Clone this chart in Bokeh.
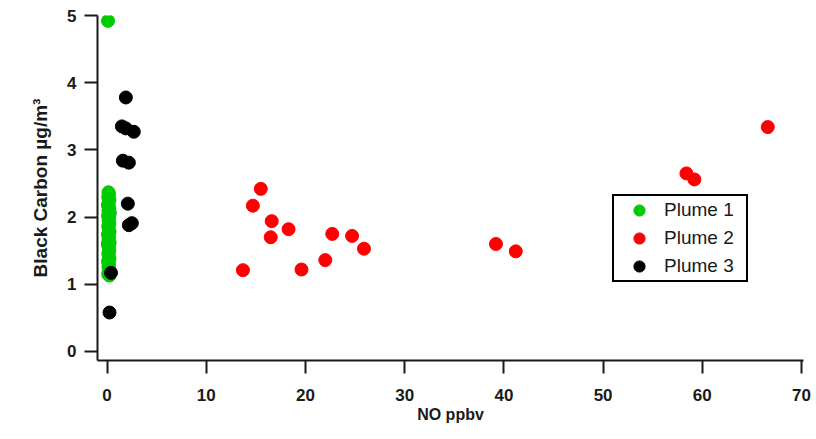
from bokeh.plotting import figure
from bokeh.models import Range1d, FixedTicker, Legend, LegendItem
from bokeh.embed import file_html
from bokeh.resources import INLINE

# NO (ppbv) vs black carbon (ug/m3)
plume1_no = [0.10, 0.15, 0.20, 0.12, 0.25, 0.18, 0.08, 0.22, 0.14, 0.28, 0.10, 0.20,
             0.16, 0.24, 0.12, 0.18, 0.26, 0.09, 0.21, 0.15, 0.27, 0.11, 0.19, 0.23,
             0.13, 0.17, 0.25, 0.10, 0.20, 0.14, 0.22, 0.16, 0.12, 0.24, 0.18, 0.08]
plume1_bc = [4.92, 2.37, 2.34, 2.30, 2.26, 2.22, 2.18, 2.14, 2.10, 2.06, 2.02, 1.98,
             1.94, 1.90, 1.86, 1.82, 1.78, 1.74, 1.70, 1.66, 1.62, 1.58, 1.54, 1.50,
             1.46, 1.42, 1.38, 1.34, 1.30, 1.26, 1.22, 1.18, 1.15, 1.13, 2.00, 1.60]

plume2_no = [13.7, 14.7, 15.5, 16.6, 16.5, 18.3, 19.6, 22.0, 22.7, 24.7, 25.9,
             39.2, 41.2, 58.4, 59.2, 66.6]
plume2_bc = [1.21, 2.17, 2.42, 1.94, 1.70, 1.82, 1.22, 1.36, 1.75, 1.72, 1.53,
             1.60, 1.49, 2.65, 2.56, 3.34]

plume3_no = [1.9, 1.5, 1.9, 2.7, 1.6, 2.2, 2.1, 2.2, 2.5, 0.4, 0.25]
plume3_bc = [3.78, 3.35, 3.32, 3.27, 2.84, 2.81, 2.20, 1.88, 1.91, 1.17, 0.58]

x_ticks = [0, 10, 20, 30, 40, 50, 60, 70]
y_ticks = [0, 1, 2, 3, 4, 5]

FONT = "Liberation Sans"
INK = "#1a1a1a"

p = figure(width=816, height=439, output_backend="svg", toolbar_location=None,
           x_range=Range1d(-0.96, 70.2), y_range=Range1d(-0.134, 5.0),
           min_border_left=97, min_border_right=13, min_border_top=15,
           min_border_bottom=79)
p.grid.visible = False
p.outline_line_color = None

g1 = p.scatter(plume1_no, plume1_bc, size=13, color="#00cc00")
g2 = p.scatter(plume2_no, plume2_bc, size=13, color="#ff0000")
g3 = p.scatter(plume3_no, plume3_bc, size=13, color="#000000")

p.xaxis.ticker = FixedTicker(ticks=x_ticks)
p.yaxis.ticker = FixedTicker(ticks=y_ticks)
p.xaxis.axis_label = "NO ppbv"
p.yaxis.axis_label = "Black Carbon µg/m³"

for ax in (p.xaxis[0], p.yaxis[0]):
    ax.axis_line_width = 2
    ax.axis_line_color = INK
    ax.major_tick_line_width = 2
    ax.major_tick_line_color = INK
    ax.major_tick_out = 13
    ax.major_tick_in = 0
    ax.minor_tick_line_color = None
    ax.major_label_text_font = FONT
    ax.major_label_text_font_style = "bold"
    ax.major_label_text_font_size = "17px"
    ax.major_label_text_color = INK
    ax.axis_label_text_font = FONT
    ax.axis_label_text_font_style = "bold"
    ax.axis_label_text_color = INK

p.xaxis.major_label_standoff = 15
p.xaxis.axis_label_standoff = 2
p.xaxis.axis_label_text_font_size = "16px"
p.yaxis.major_label_standoff = 8
p.yaxis.axis_label_standoff = 13
p.yaxis.axis_label_text_font_size = "19px"

# legend dots are 0.4 * the smaller side of the glyph box
legend = Legend(items=[LegendItem(label="Plume 1", renderers=[g1]),
                       LegendItem(label="Plume 2", renderers=[g2]),
                       LegendItem(label="Plume 3", renderers=[g3])],
                location=(515, 78), margin=0, padding=0, spacing=0,
                label_height=28, glyph_height=28, glyph_width=50,
                label_standoff=0, label_width=82,
                label_text_font=FONT, label_text_font_size="19px",
                label_text_color=INK, border_line_color="#000000",
                border_line_alpha=1, border_line_width=2,
                background_fill_alpha=1)
p.add_layout(legend, "center")

open("out.html", "w").write(file_html(p, INLINE))
